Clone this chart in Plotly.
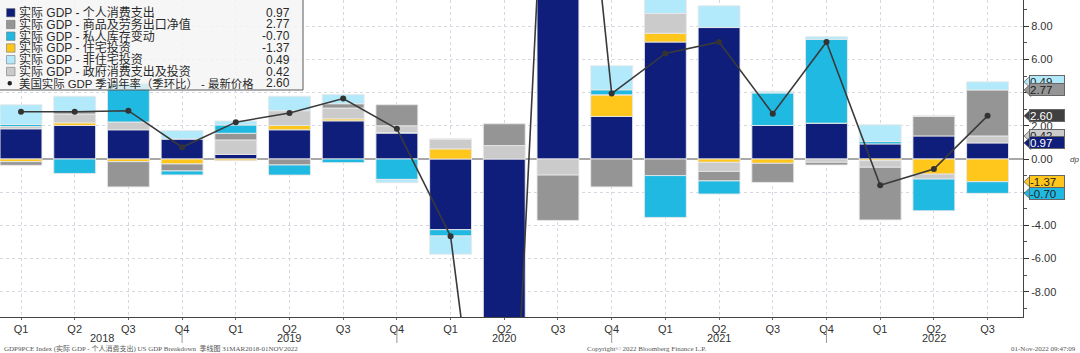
import plotly.graph_objects as go

# ---------------- data ----------------
quarters = ["Q1", "Q2", "Q3", "Q4"] * 4 + ["Q1", "Q2", "Q3"]
years = ["2018", "2019", "2020", "2021", "2022"]

pce =          [1.82, 2.02, 1.76, 1.21, 0.28, 1.76, 2.30, 1.56, -4.26, -24.30, 25.50, 2.56, 7.05, 7.92, 2.02, 2.16, 0.91, 1.39, 0.97]
residential =  [-0.16, 0.16, -0.16, -0.30, -0.10, 0.26, 0.12, 0.04, 0.61, -0.72, 1.90, 1.31, 0.53, -0.20, -0.26, 0.00, -0.10, -0.91, -1.37]
government =   [0.14, 0.53, 0.47, 0.00, 0.87, 0.89, 0.65, 0.40, 0.59, 0.81, -0.97, 0.00, 1.19, -0.55, 0.00, -0.20, -0.40, -0.30, 0.42]
net_exports =  [-0.22, 0.16, -1.52, -0.42, 0.40, -0.36, 0.26, 1.27, 0.00, 1.31, -2.73, -1.68, -1.00, -0.57, -1.15, -0.16, -3.17, 1.17, 2.77]
inventories =  [0.12, -0.87, 2.35, -0.24, 0.50, -0.61, -0.22, -1.23, -0.38, -3.30, 6.80, 0.30, -2.52, -0.79, 1.96, 5.05, 0.14, -1.91, -0.70]
nonres =       [1.19, 0.91, 0.00, 0.50, 0.24, 0.87, 0.55, -0.20, -1.10, -3.50, 2.90, 1.45, 1.11, 1.31, 0.10, 0.16, 1.01, 0.06, 0.49]
gdp =          [2.85, 2.85, 2.91, 0.71, 2.22, 2.77, 3.64, 1.82, -4.65, -29.90, 35.30, 3.94, 6.36, 7.05, 2.73, 7.05, -1.58, -0.61, 2.60]

names = {
    "pce": "实际 GDP - 个人消费支出",
    "net": "实际 GDP - 商品及劳务出口净值",
    "inv": "实际 GDP - 私人库存变动",
    "res": "实际 GDP - 住宅投资",
    "nonres": "实际 GDP - 非住宅投资",
    "gov": "实际 GDP - 政府消费支出及投资",
    "gdp": "美国实际 GDP 季调年率（季环比） - 最新价格",
}
colors = {
    "pce": "#0F1E7B",
    "net": "#959595",
    "inv": "#1FB9E1",
    "res": "#FFC61C",
    "nonres": "#B3EAFB",
    "gov": "#CBCBCB",
    "gdp": "#3A3A3A",
}
series = {"pce": pce, "res": residential, "gov": government, "net": net_exports,
          "inv": inventories, "nonres": nonres}
stack_order = ["pce", "res", "gov", "net", "inv", "nonres"]
legend_order = ["pce", "net", "inv", "res", "nonres", "gov", "gdp"]

FONT = "Liberation Sans, Noto Sans CJK SC, sans-serif"
W, H = 1080, 353
PW, PH = 1023, 317           # plot area in px
X0, X1 = -0.391, 18.66
Y0, Y1 = -9.52, 9.58

idx = list(range(len(quarters)))
fig = go.Figure()

for k in stack_order:
    fig.add_trace(go.Bar(
        x=idx, y=series[k], name=names[k], width=0.78,
        marker=dict(color=colors[k], line=dict(color="rgba(232,232,232,0.9)", width=1)),
        showlegend=False, hoverinfo="skip"))

fig.add_trace(go.Scatter(
    x=idx, y=gdp, mode="lines+markers", name=names["gdp"],
    line=dict(color=colors["gdp"], width=1.6),
    marker=dict(color="#333333", size=6),
    showlegend=False, hoverinfo="skip"))

def px_x(p):
    return p / PW

def px_y(p):
    return (PH - p) / PH

def val_y(v):
    return (v - Y0) / (Y1 - Y0)

shapes = []
annotations = []

# ---------- custom legend ----------
shapes.append(dict(type="rect", xref="paper", yref="paper", layer="above",
                   x0=px_x(-2), x1=px_x(303), y0=px_y(90), y1=px_y(-3),
                   fillcolor="rgba(244,244,244,0.84)", line=dict(color="#5a5a5a", width=1)))
row_y = [12.7, 24.5, 36.2, 48.0, 59.7, 71.5, 83.2]
last_vals = {k: series[k][-1] for k in series}
last_vals["gdp"] = gdp[-1]
for r, k in zip(row_y, legend_order):
    fs = 12
    if k == "gdp":
        fs = 11.4
        shapes.append(dict(type="circle", xref="paper", yref="paper", layer="above",
                           x0=px_x(7.5), x1=px_x(12), y0=px_y(r + 2.3), y1=px_y(r - 2.3),
                           fillcolor="#222", line=dict(width=0)))
    else:
        shapes.append(dict(type="rect", xref="paper", yref="paper", layer="above",
                           x0=px_x(6.5), x1=px_x(15), y0=px_y(r + 4.2), y1=px_y(r - 4.2),
                           fillcolor=colors[k], line=dict(color="#777", width=0.6)))
    annotations.append(dict(xref="paper", yref="paper", x=px_x(17), y=px_y(r),
                            xanchor="left", yanchor="middle", showarrow=False,
                            text=names[k], font=dict(family=FONT, size=fs, color="#2a2a2a")))
    annotations.append(dict(xref="paper", yref="paper", x=px_x(292), y=px_y(r),
                            xanchor="right", yanchor="middle", showarrow=False,
                            text=f"{last_vals[k]:.2f}", font=dict(family=FONT, size=12, color="#2a2a2a")))

# ---------- right-hand value tags ----------
tags = []
pos_acc, neg_acc = 0.0, 0.0
for k in stack_order:
    v = series[k][-1]
    if v >= 0:
        pos_acc += v
        tags.append((pos_acc, v, k))
    else:
        neg_acc += v
        tags.append((neg_acc, v, k))
tags.append((gdp[-1], gdp[-1], "gdp"))
tags.sort(key=lambda t: -t[0])
for yv, v, k in tags:
    bg = "#404040" if k == "gdp" else colors[k]
    fg = "white" if k in ("gdp", "pce") else "#222"
    yc = val_y(yv)
    h = 6.5 / PH
    shapes.append(dict(type="path", xref="paper", yref="paper", layer="above",
                       path=f"M {px_x(1024)},{yc} L {px_x(1031)},{yc + h} L {px_x(1031)},{yc - h} Z",
                       fillcolor=bg, line=dict(color="#666", width=0.8)))
    annotations.append(dict(xref="paper", yref="y", x=px_x(1029), y=yv,
                            xanchor="left", yanchor="middle", showarrow=False,
                            text=f"{v:.2f}", width=34, height=11, align="left",
                            bgcolor=bg, bordercolor="#666", borderwidth=1, borderpad=0,
                            font=dict(family=FONT, size=11.5, color=fg)))

# ---------- year labels & separators ----------
year_pos = [1.5, 5, 9, 13, 17]
for yp, yl in zip(year_pos, years):
    annotations.append(dict(xref="x", yref="paper", x=yp, y=px_y(337.5),
                            xanchor="center", yanchor="middle", showarrow=False,
                            text=yl, font=dict(family=FONT, size=11, color="#333")))
for sep in [3, 7, 11, 15]:
    xp = (sep - X0) / (X1 - X0)
    shapes.append(dict(type="line", xref="paper", yref="paper",
                       x0=xp, x1=xp, y0=px_y(329), y1=px_y(343),
                       line=dict(color="#999", width=1)))

# ---------- footer ----------
ff = dict(family="Liberation Serif, Noto Sans CJK SC, serif", size=7, color="#555")
annotations.append(dict(xref="paper", yref="paper", x=px_x(2), y=px_y(348.5), xanchor="left",
                        yanchor="middle", showarrow=False, font=ff,
                        text="GDP9PCE Index (实际 GDP - 个人消费支出) US GDP Breakdown  季线图 31MAR2018-01NOV2022"))
annotations.append(dict(xref="paper", yref="paper", x=px_x(585), y=px_y(348.5), xanchor="left",
                        yanchor="middle", showarrow=False, font=ff,
                        text="Copyright© 2022 Bloomberg Finance L.P."))
annotations.append(dict(xref="paper", yref="paper", x=px_x(1078), y=px_y(348.5), xanchor="right",
                        yanchor="middle", showarrow=False, font=ff,
                        text="01-Nov-2022 09:47:09"))
annotations.append(dict(xref="paper", yref="y", x=px_x(1068), y=0, xanchor="left",
                        yanchor="middle", showarrow=False,
                        text="<i>dp</i>", font=dict(family=FONT, size=8, color="#444")))

ytv = [-8, -6, -4, -2, 0, 2, 4, 6, 8]
fig.update_layout(
    width=W, height=H,
    margin=dict(l=0, r=W - PW, t=0, b=H - PH, pad=0),
    paper_bgcolor="white", plot_bgcolor="white",
    barmode="relative", bargap=0.22,
    font=dict(family=FONT, color="#333"),
    shapes=shapes, annotations=annotations,
    xaxis=dict(range=[X0, X1], tickvals=idx, ticktext=quarters,
               showgrid=True, gridcolor="#d4d8e0", griddash="dot", gridwidth=1,
               showline=True, linecolor="#444", linewidth=1,
               ticks="outside", ticklen=2, tickcolor="#666",
               zeroline=False, tickfont=dict(family=FONT, size=11, color="#333")),
    yaxis=dict(range=[Y0, Y1], side="right", tickvals=ytv,
               ticktext=[f"{v:.2f}" for v in ytv],
               showgrid=True, gridcolor="#d4d8e0", griddash="dot", gridwidth=1,
               showline=True, linecolor="#444", linewidth=1,
               ticks="outside", ticklen=5, tickcolor="#333",
               minor=dict(tickmode="linear", tick0=0, dtick=1, ticks="outside",
                          ticklen=3, tickcolor="#555", showgrid=False),
               zeroline=True, zerolinecolor="#a8a8a8", zerolinewidth=2,
               tickfont=dict(family=FONT, size=11, color="#333")),
)

fig.write_html("out.html")
